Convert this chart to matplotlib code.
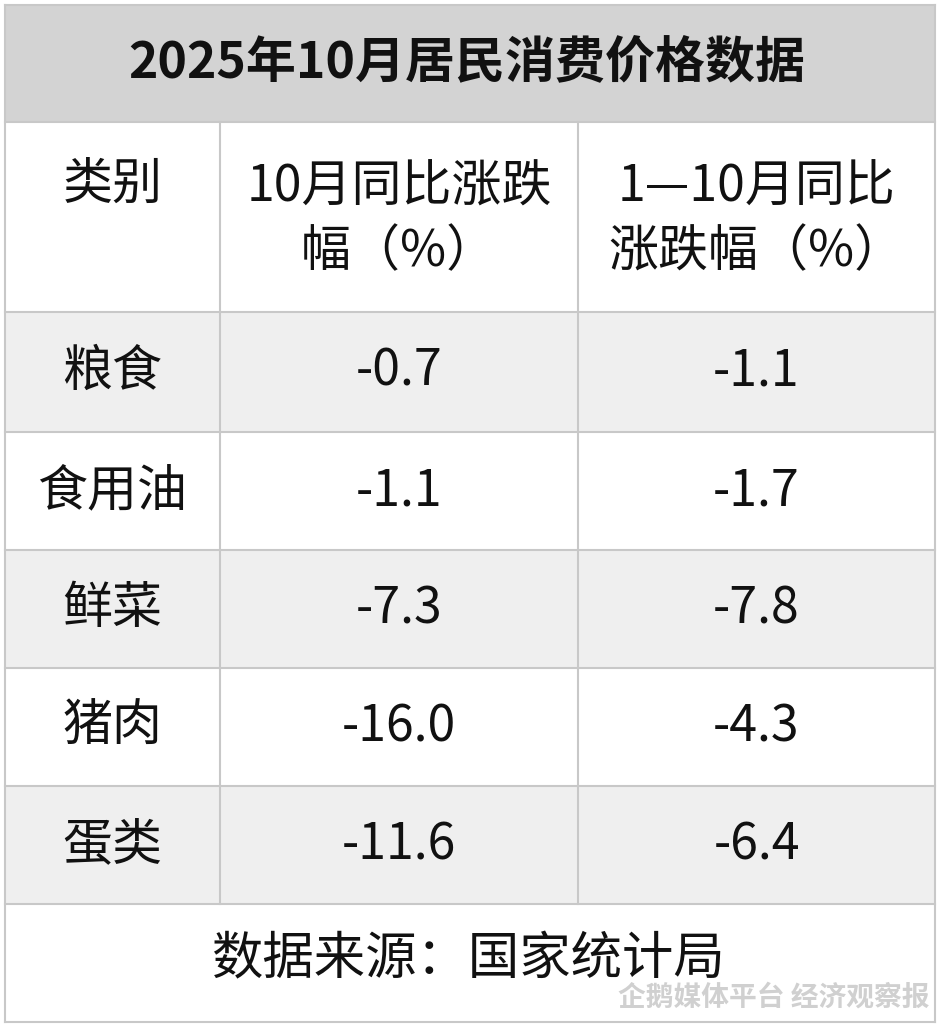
import matplotlib
matplotlib.use("Agg")
import matplotlib.pyplot as plt
from matplotlib.patches import Rectangle

plt.rcParams['font.family'] = ['Noto Sans CJK SC', 'DejaVu Sans']

title = "2025年10月居民消费价格数据"
headers = ["类别", "10月同比涨跌\n幅（%）", "1—10月同比\n涨跌幅（%）"]
categories = ["粮食", "食用油", "鲜菜", "猪肉", "蛋类"]
oct_yoy = ["-0.7", "-1.1", "-7.3", "-16.0", "-11.6"]
ytd_yoy = ["-1.1", "-1.7", "-7.8", "-4.3", "-6.4"]
source = "数据来源：国家统计局"

W, H = 940, 1025
fig = plt.figure(figsize=(W/100, H/100), dpi=100)
ax = fig.add_axes([0, 0, 1, 1])
ax.set_xlim(0, W); ax.set_ylim(H, 0); ax.axis('off')

cols = [5, 220, 578, 935]
row_edges = [5, 122, 312, 432, 550, 668, 786, 904, 1022]
lc = '#c8c8c8'

ax.add_patch(Rectangle((cols[0], row_edges[0]), cols[3]-cols[0], row_edges[1]-row_edges[0], fc='#d3d3d3', ec='none'))
for i in range(len(categories)):
    if i % 2 == 0:
        ax.add_patch(Rectangle((cols[0], row_edges[2+i]), cols[3]-cols[0], row_edges[3+i]-row_edges[2+i], fc='#efefef', ec='none'))

for y in row_edges:
    ax.plot([cols[0], cols[3]], [y, y], color=lc, lw=1.5)
for x in (cols[0], cols[3]):
    ax.plot([x, x], [row_edges[0], row_edges[-1]], color=lc, lw=1.5)
for x in cols[1:3]:
    ax.plot([x, x], [row_edges[1], row_edges[7]], color=lc, lw=1.5)

cx = [(cols[i]+cols[i+1])/2 for i in range(3)]
ax.text(W/2 - 3, 63, title, ha='center', va='center', fontsize=36, fontweight='bold', color='#111')
ax.text(cx[0], 185, headers[0], ha='center', va='center', fontsize=36, color='#111')
for j in (1, 2):
    ax.text(cx[j], (row_edges[1]+row_edges[2])/2 + 3, headers[j], ha='center', va='center', fontsize=36, color='#111', linespacing=1.3)
for i in range(len(categories)):
    yc = (row_edges[2+i]+row_edges[3+i])/2
    for j, v in enumerate([categories[i], oct_yoy[i], ytd_yoy[i]]):
        ax.text(cx[j], yc, v, ha='center', va='center', fontsize=36, color='#111')
ax.text(468, 960, source, ha='center', va='center', fontsize=37, color='#111')
ax.text(930, 998, "企鹅媒体平台 经济观察报", ha='right', va='center', fontsize=20, color='#d0d0d0', fontweight='bold')

fig.savefig("out.png", dpi=100, facecolor='white')
